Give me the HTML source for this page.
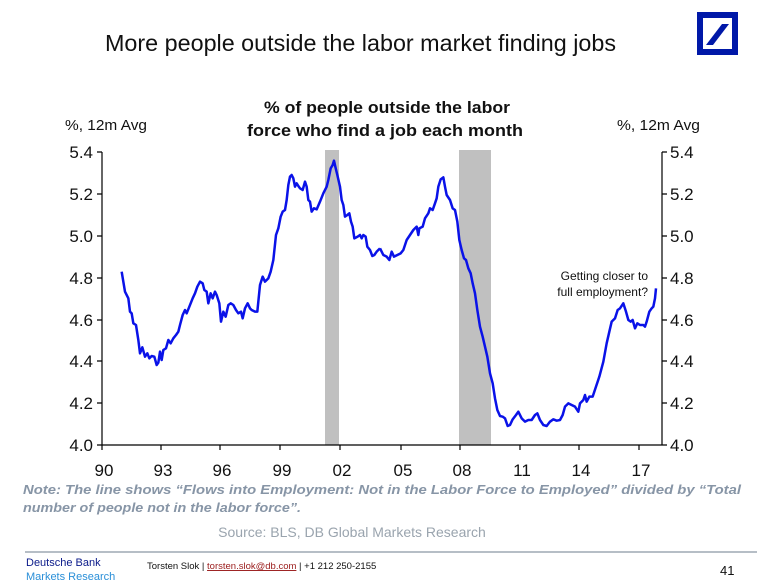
<!DOCTYPE html>
<html><head><meta charset="utf-8"><style>
html,body{margin:0;padding:0;background:#fff;}
svg{display:block;font-family:"Liberation Sans",Arial,sans-serif;}
</style></head><body>
<svg width="775" height="586" viewBox="0 0 775 586" xmlns="http://www.w3.org/2000/svg">
<text x="105" y="51" font-size="23" fill="#111" textLength="511" lengthAdjust="spacingAndGlyphs">More people outside the labor market finding jobs</text>
<rect x="700" y="15" width="35" height="37" fill="none" stroke="#0018a8" stroke-width="6"/>
<polygon points="706,45 713,45 729,24 722,24" fill="#0018a8"/>
<text x="264" y="113" font-size="17" font-weight="bold" fill="#111" textLength="246" lengthAdjust="spacingAndGlyphs">% of people outside the labor</text>
<text x="247" y="136" font-size="17" font-weight="bold" fill="#111" textLength="276" lengthAdjust="spacingAndGlyphs">force who find a job each month</text>
<text x="65" y="130" font-size="15" fill="#111" textLength="82" lengthAdjust="spacingAndGlyphs">%, 12m Avg</text>
<text x="617" y="130" font-size="15" fill="#111" textLength="83" lengthAdjust="spacingAndGlyphs">%, 12m Avg</text>
<rect x="325" y="150" width="14" height="295" fill="#c0c0c0"/>
<rect x="459" y="150" width="32" height="295" fill="#c0c0c0"/>
<g stroke="#000" stroke-width="1.2" fill="none">
<line x1="102" y1="152" x2="102" y2="445"/>
<line x1="662" y1="152" x2="662" y2="445"/>
<line x1="102" y1="445" x2="662" y2="445"/>
<path d="M97 152H102M97 194H102M97 236H102M97 278H102M97 320H102M97 361H102M97 403H102M97 445H102"/>
<path d="M662 152H667M662 194H667M662 236H667M662 278H667M662 320H667M662 361H667M662 403H667M662 445H667"/>
<path d="M102 445V450M161 445V450M220 445V450M280 445V450M340 445V450M401 445V450M460 445V450M520 445V450M579 445V450M639 445V450"/>
</g>
<g font-size="17" fill="#111">
<g text-anchor="end">
<text x="93" y="158">5.4</text><text x="93" y="200">5.2</text><text x="93" y="242">5.0</text><text x="93" y="284">4.8</text><text x="93" y="326">4.6</text><text x="93" y="367">4.4</text><text x="93" y="409">4.2</text><text x="93" y="451">4.0</text>
</g>
<text x="670" y="158">5.4</text><text x="670" y="200">5.2</text><text x="670" y="242">5.0</text><text x="670" y="284">4.8</text><text x="670" y="326">4.6</text><text x="670" y="367">4.4</text><text x="670" y="409">4.2</text><text x="670" y="451">4.0</text>
<g text-anchor="middle">
<text x="104" y="476">90</text><text x="163" y="476">93</text><text x="222" y="476">96</text><text x="282" y="476">99</text><text x="342" y="476">02</text><text x="403" y="476">05</text><text x="462" y="476">08</text><text x="522" y="476">11</text><text x="581" y="476">14</text><text x="641" y="476">17</text>
</g>
</g>
<g fill="none" stroke="#0a12e8" stroke-width="7.5" stroke-linejoin="round">
<polyline transform="translate(60,140) scale(0.33333)" points="185,395 195,455 205,475 210,515 215,520 220,550 228,555 235,600 240,640 247,622 255,650 262,640 268,655 275,648 283,650 290,675 295,668 300,635 305,660 310,630 318,625 325,600 332,610 340,595 348,585 355,575 360,555 368,525 375,510 380,520 388,500 398,475 405,460 412,440 420,425 428,430 433,450 440,455 445,490 452,460 458,475 465,455 470,465 478,490 483,545 490,515 497,530 505,495 512,490 520,495 528,510 535,520 543,515 548,535 555,505 563,490 570,505 575,510 585,515 592,515 600,435 608,410 615,425 625,415 632,395 640,360 648,285 655,265 662,230 668,215 675,210 680,180 685,135 690,110 695,105 700,115 705,140 710,130 715,138 720,145 728,150 735,125 740,140 745,180 750,185 755,215 762,205 770,208 780,185 790,160 800,140 805,120 812,85 818,75 822,62 826,80 832,105 840,140 845,180 850,195 855,230 862,225 868,220 873,245 878,260 883,295 893,290 900,285 905,295 910,285 917,290 922,320 930,330 937,348 943,345 950,335 960,325"/>
<polyline transform="translate(380,140) scale(0.33333)" points="0,325 10,345 20,350 28,360 35,335 42,350 52,345 62,340 70,330 80,300 90,285 100,270 110,260 115,285 118,265 128,260 135,235 145,220 150,205 158,210 165,190 170,175 175,140 182,118 190,112 195,140 200,165 210,180 218,205 225,210 232,245 238,300 245,330 252,355 258,360 265,385 272,400 278,430 285,460 292,510 300,560 308,590 315,620 322,650 330,700 338,730 345,775 352,810 360,828 368,830 375,835 383,858 390,855 398,838 408,825 415,815 425,835 435,845 445,840 455,840 465,825 472,820 480,840 490,855 500,858 510,845 520,838 530,842 540,840 548,825 555,800 565,790 575,795 585,800 595,815 600,790 610,780 615,765 620,785 628,770 638,770 648,740 658,710 670,665 680,610 688,575 695,545 705,535 713,510 720,505 730,490 738,515 745,540 752,545 758,540 765,565 772,550 780,555 790,555 795,560 800,545 808,515 815,505 820,500 825,475 828,445"/>
</g>
<text x="648" y="280" font-size="12" fill="#111" text-anchor="end">Getting closer to</text>
<text x="648" y="296" font-size="12" fill="#111" text-anchor="end">full employment?</text>
<g font-size="13" font-weight="bold" font-style="italic" fill="#8795a6">
<text x="23" y="494" textLength="718" lengthAdjust="spacingAndGlyphs">Note: The line shows “Flows into Employment: Not in the Labor Force to Employed” divided by “Total</text>
<text x="23" y="512" textLength="278" lengthAdjust="spacingAndGlyphs">number of people not in the labor force”.</text>
</g>
<text x="352" y="537" font-size="14" fill="#9aa4ae" text-anchor="middle">Source: BLS, DB Global Markets Research</text>
<line x1="25" y1="552" x2="757" y2="552" stroke="#8a96a3" stroke-width="1.2"/>
<text x="26" y="566" font-size="11" fill="#0a1a8a">Deutsche Bank</text>
<text x="26" y="580" font-size="11" fill="#2a8fd8">Markets Research</text>
<text x="147" y="569" font-size="9.5" fill="#111">Torsten Slok  |  <tspan fill="#9a1a1a" text-decoration="underline">torsten.slok@db.com</tspan>  | +1 212 250-2155</text>
<text x="720" y="575" font-size="13" fill="#111">41</text>
</svg>
</body></html>
